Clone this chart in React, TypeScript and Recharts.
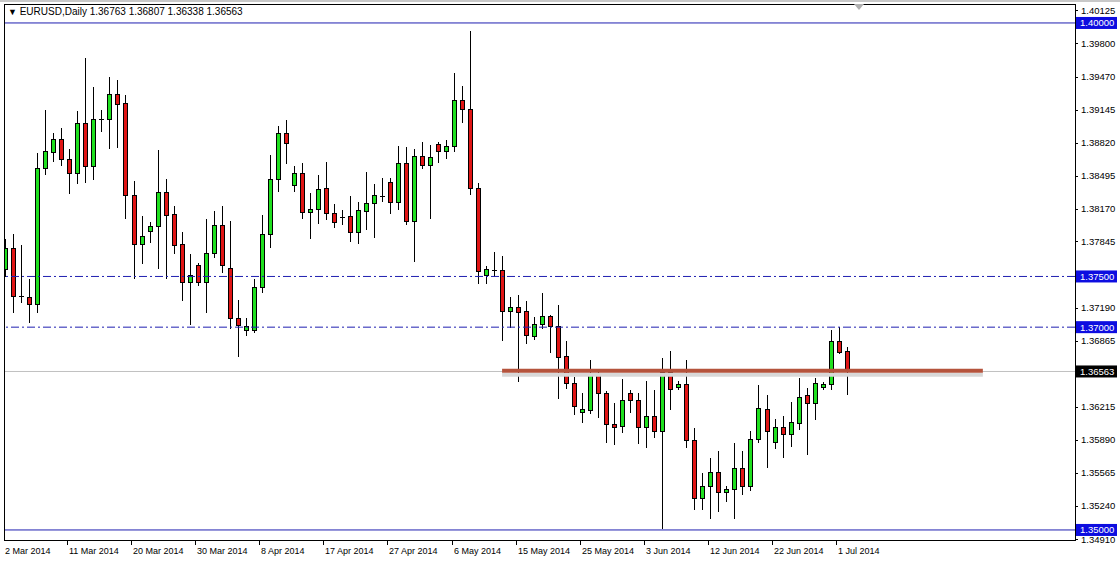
import { Bar, ComposedChart, ReferenceLine, XAxis, YAxis } from 'recharts';

const DATES = [
  '2 Mar 2014', '3 Mar 2014', '4 Mar 2014', '5 Mar 2014', '6 Mar 2014', '7 Mar 2014',
  '9 Mar 2014', '10 Mar 2014', '11 Mar 2014', '12 Mar 2014', '13 Mar 2014', '14 Mar 2014',
  '16 Mar 2014', '17 Mar 2014', '18 Mar 2014', '19 Mar 2014', '20 Mar 2014', '21 Mar 2014',
  '23 Mar 2014', '24 Mar 2014', '25 Mar 2014', '26 Mar 2014', '27 Mar 2014', '28 Mar 2014',
  '30 Mar 2014', '31 Mar 2014', '1 Apr 2014', '2 Apr 2014', '3 Apr 2014', '4 Apr 2014',
  '6 Apr 2014', '7 Apr 2014', '8 Apr 2014', '9 Apr 2014', '10 Apr 2014', '11 Apr 2014',
  '13 Apr 2014', '14 Apr 2014', '15 Apr 2014', '16 Apr 2014', '17 Apr 2014', '18 Apr 2014',
  '20 Apr 2014', '21 Apr 2014', '22 Apr 2014', '23 Apr 2014', '24 Apr 2014', '25 Apr 2014',
  '27 Apr 2014', '28 Apr 2014', '29 Apr 2014', '30 Apr 2014', '1 May 2014', '2 May 2014',
  '4 May 2014', '5 May 2014', '6 May 2014', '7 May 2014', '8 May 2014', '9 May 2014',
  '11 May 2014', '12 May 2014', '13 May 2014', '14 May 2014', '15 May 2014', '16 May 2014',
  '18 May 2014', '19 May 2014', '20 May 2014', '21 May 2014', '22 May 2014', '23 May 2014',
  '25 May 2014', '26 May 2014', '27 May 2014', '28 May 2014', '29 May 2014', '30 May 2014',
  '1 Jun 2014', '2 Jun 2014', '3 Jun 2014', '4 Jun 2014', '5 Jun 2014', '6 Jun 2014',
  '8 Jun 2014', '9 Jun 2014', '10 Jun 2014', '11 Jun 2014', '12 Jun 2014', '13 Jun 2014',
  '15 Jun 2014', '16 Jun 2014', '17 Jun 2014', '18 Jun 2014', '19 Jun 2014', '20 Jun 2014',
  '22 Jun 2014', '23 Jun 2014', '24 Jun 2014', '25 Jun 2014', '26 Jun 2014', '27 Jun 2014',
  '29 Jun 2014', '30 Jun 2014', '1 Jul 2014', '2 Jul 2014',
];

const OPEN = [
  1.37574, 1.37781, 1.37308, 1.37298, 1.37229, 1.3857, 1.38728, 1.38856, 1.38659, 1.38521,
  1.39014, 1.3859, 1.39053, 1.39053, 1.393, 1.39211, 1.38304, 1.37821, 1.37949, 1.37998,
  1.38334, 1.38117, 1.37821, 1.37446, 1.37614, 1.37446, 1.37732, 1.38008, 1.37584, 1.37091,
  1.36973, 1.36973, 1.37397, 1.37919, 1.38462, 1.38915, 1.38403, 1.38521, 1.38136, 1.38166,
  1.38373, 1.38127, 1.38087, 1.38097, 1.37939, 1.38146, 1.38225, 1.38294, 1.38432, 1.38235,
  1.3862, 1.38047, 1.38688, 1.386, 1.38807, 1.38738, 1.38787, 1.39241, 1.39152, 1.38373,
  1.37515, 1.37564, 1.37564, 1.3716, 1.37199, 1.3716, 1.36913, 1.37032, 1.37111, 1.37012,
  1.36716, 1.3645, 1.36164, 1.36184, 1.36548, 1.36351, 1.36046, 1.36026, 1.36351, 1.36282,
  1.36016, 1.36125, 1.35977, 1.36558, 1.3641, 1.3644, 1.35888, 1.35316, 1.35434, 1.35572,
  1.35375, 1.35404, 1.35612, 1.35434, 1.35898, 1.36193, 1.35868, 1.36016, 1.35947, 1.36055,
  1.36331, 1.36253, 1.3641, 1.3644, 1.36864, 1.36763,
];

const HIGH = [
  1.3787, 1.37919, 1.37811, 1.37475, 1.38718, 1.39142, 1.38915, 1.38965, 1.38758, 1.39132,
  1.39655, 1.39369, 1.39142, 1.39468, 1.39438, 1.3929, 1.38442, 1.38097, 1.38038, 1.38748,
  1.38462, 1.38195, 1.37939, 1.37722, 1.37633, 1.38067, 1.38146, 1.38195, 1.38047, 1.37268,
  1.37091, 1.37475, 1.38107, 1.38698, 1.38984, 1.39044, 1.3859, 1.3862, 1.38324, 1.38501,
  1.38629, 1.38215, 1.38156, 1.38294, 1.38235, 1.38531, 1.38412, 1.38472, 1.38472, 1.38787,
  1.38777, 1.38758, 1.38827, 1.38797, 1.38827, 1.38846, 1.39507, 1.39379, 1.39921, 1.38422,
  1.37604, 1.37742, 1.37702, 1.37298, 1.37318, 1.37259, 1.37101, 1.37337, 1.3712, 1.37219,
  1.36864, 1.36509, 1.36351, 1.36677, 1.36578, 1.36371, 1.36253, 1.36489, 1.36381, 1.36351,
  1.3647, 1.36381, 1.36696, 1.36765, 1.3647, 1.36677, 1.36006, 1.35562, 1.3571, 1.35779,
  1.35434, 1.35858, 1.35779, 1.35977, 1.3643, 1.36331, 1.36095, 1.36125, 1.36263, 1.36499,
  1.364, 1.36499, 1.3646, 1.36973, 1.37002, 1.36807,
];

const LOW = [
  1.37505, 1.3715, 1.37249, 1.37051, 1.3715, 1.38511, 1.38639, 1.386, 1.38324, 1.38422,
  1.38432, 1.38462, 1.38935, 1.38767, 1.38777, 1.38077, 1.37485, 1.37633, 1.3784, 1.37584,
  1.37485, 1.37732, 1.37268, 1.37032, 1.37416, 1.3715, 1.37692, 1.37544, 1.36992, 1.36716,
  1.36923, 1.36953, 1.37347, 1.37791, 1.38343, 1.3862, 1.38343, 1.38077, 1.3788, 1.38028,
  1.38067, 1.37988, 1.38018, 1.3785, 1.3783, 1.37969, 1.3789, 1.38245, 1.38127, 1.38166,
  1.38018, 1.37653, 1.3857, 1.38077, 1.38629, 1.38669, 1.38738, 1.39024, 1.38314, 1.37436,
  1.37436, 1.37505, 1.36874, 1.37002, 1.3647, 1.36844, 1.36884, 1.36992, 1.36756, 1.36302,
  1.364, 1.36144, 1.36065, 1.36154, 1.36115, 1.35868, 1.35848, 1.35967, 1.36164, 1.35858,
  1.35819, 1.35917, 1.3502, 1.36193, 1.36391, 1.35819, 1.35207, 1.35207, 1.35118, 1.35187,
  1.35286, 1.35118, 1.35355, 1.35395, 1.35868, 1.35621, 1.35809, 1.3572, 1.35828, 1.35996,
  1.3575, 1.36095, 1.36391, 1.36391, 1.36746, 1.36338,
];

const CLOSE = [
  1.37781, 1.37308, 1.37308, 1.37229, 1.3857, 1.38738, 1.38856, 1.38659, 1.38521, 1.39014,
  1.3859, 1.39053, 1.39053, 1.393, 1.39201, 1.38304, 1.37821, 1.379, 1.37998, 1.38334,
  1.38107, 1.37811, 1.37446, 1.37515, 1.37446, 1.37732, 1.38008, 1.37614, 1.37091, 1.37022,
  1.37012, 1.37397, 1.37919, 1.38462, 1.38915, 1.38817, 1.38521, 1.38136, 1.38166, 1.38363,
  1.38127, 1.38038, 1.38087, 1.37939, 1.38156, 1.38225, 1.38304, 1.38294, 1.38235, 1.3862,
  1.38047, 1.38688, 1.386, 1.38679, 1.38738, 1.38787, 1.39241, 1.39152, 1.38373, 1.37554,
  1.37574, 1.37564, 1.3716, 1.37199, 1.3715, 1.36923, 1.37032, 1.37111, 1.37012, 1.36706,
  1.3645, 1.36223, 1.36193, 1.36548, 1.36351, 1.36046, 1.36016, 1.36282, 1.36282, 1.36016,
  1.36125, 1.35977, 1.36558, 1.36391, 1.3644, 1.35888, 1.35316, 1.35434, 1.35572, 1.35375,
  1.35404, 1.35612, 1.35434, 1.35898, 1.36203, 1.35977, 1.36016, 1.35947, 1.36065, 1.36312,
  1.36253, 1.3645, 1.3644, 1.36864, 1.36756, 1.36563,
];

const X_TICKS = [
  '2 Mar 2014', '11 Mar 2014', '20 Mar 2014', '30 Mar 2014', '8 Apr 2014', '17 Apr 2014',
  '27 Apr 2014', '6 May 2014', '15 May 2014', '25 May 2014', '3 Jun 2014', '12 Jun 2014',
  '22 Jun 2014', '1 Jul 2014',
];

const PRICE_TICKS = [
  1.40125, 1.398, 1.3947, 1.39145, 1.3882, 1.38495, 1.3817, 1.37845, 1.3719, 1.36865,
  1.36215, 1.3589, 1.35565, 1.3524, 1.3491,
];
const LEVEL_LINES = [1.4, 1.375, 1.37, 1.35];
const BID = 1.36563;
const SUPPORT = 1.3657;
const EMPTY_SLOTS = 28;

const BLUE = '#1f1fb0';
const LABEL_BLUE = '#0d0de0';
const FONT = '"Liberation Sans", Arial, sans-serif';

const data: any[] = DATES.map((date, i) => ({
  date,
  open: OPEN[i],
  high: HIGH[i],
  low: LOW[i],
  close: CLOSE[i],
}));
for (let i = 0; i < EMPTY_SLOTS; i++) {
  data.push({ date: `_${i}`, open: null, high: null, low: null, close: null });
}

function Candle(props: any) {
  const { x, y, width, height, payload } = props;
  if (!payload || payload.open == null || !isFinite(y)) return <g />;
  const { open, high, low, close } = payload;
  const top = Math.min(y, y + height);
  const h = Math.abs(height);
  const toY = (p: number) => top + ((high - p) / (high - low || 1)) * h;
  const cx = Math.floor(x + width / 2) + 0.5;
  const yo = toY(open);
  const yc = toY(close);
  const bTop = Math.round(Math.min(yo, yc)) + 0.5;
  const bBot = Math.round(Math.max(yo, yc)) + 0.5;
  const bull = close > open;
  return (
    <g>
      <line x1={cx} x2={cx} y1={Math.round(top)} y2={Math.round(top + h) + 1} stroke="#000" strokeWidth={1} />
      {bBot - bTop < 1 ? (
        <line x1={cx - 2.5} x2={cx + 2.5} y1={bTop} y2={bTop} stroke="#000" strokeWidth={1} />
      ) : (
        <rect
          x={cx - 2}
          y={bTop}
          width={4}
          height={bBot - bTop}
          fill={bull ? '#1fe01f' : '#e01515'}
          stroke="#000"
          strokeWidth={1}
        />
      )}
    </g>
  );
}

function PriceTick(props: any) {
  const { y, payload } = props;
  const v = payload.value as number;
  const text = v.toFixed(5);
  const isLevel = LEVEL_LINES.includes(v);
  const isBid = v === BID;
  if (isLevel || isBid) {
    return (
      <g>
        <rect x={1076} y={y - 6} width={41} height={12} fill={isBid ? '#000' : LABEL_BLUE} />
        <text x={1080} y={y + 3.5} fontSize={9.5} fontFamily={FONT} fill="#fff">
          {text}
        </text>
      </g>
    );
  }
  return (
    <g>
      <line x1={1075} x2={1078} y1={Math.round(y) + 0.5} y2={Math.round(y) + 0.5} stroke="#000" />
      <text x={1081} y={y + 3.5} fontSize={9.5} fontFamily={FONT} fill="#000">
        {text}
      </text>
    </g>
  );
}

function DateTick(props: any) {
  const { x, payload } = props;
  const tx = Math.floor(x) + 0.5;
  return (
    <g>
      <line x1={tx - 2} x2={tx - 2} y1={540} y2={545} stroke="#000" />
      <text x={tx - 0.5} y={554} fontSize={9} fontFamily={FONT} fill="#000">
        {payload.value}
      </text>
    </g>
  );
}

export default function App() {
  return (
    <div
      style={{
        position: 'absolute',
        left: 0,
        top: 0,
        width: 1120,
        height: 562,
        background: '#fff',
        overflow: 'hidden',
      }}
    >
      <ComposedChart
        width={1120}
        height={562}
        data={data}
        margin={{ top: 4, right: 0, bottom: 0, left: 1.3 }}
        barCategoryGap={0}
      >
        <XAxis
          dataKey="date"
          type="category"
          height={22}
          ticks={X_TICKS}
          interval={0}
          tick={<DateTick />}
          axisLine={false}
          tickLine={false}
        />
        <YAxis
          orientation="right"
          type="number"
          width={45}
          domain={[1.34901, 1.40187]}
          allowDataOverflow
          ticks={[...PRICE_TICKS, ...LEVEL_LINES, BID]}
          interval={0}
          tick={<PriceTick />}
          axisLine={false}
          tickLine={false}
        />
        <ReferenceLine y={BID} stroke="#c0c0c0" strokeWidth={1} />
        <ReferenceLine y={1.4} stroke={BLUE} strokeWidth={1} />
        <ReferenceLine y={1.35} stroke={BLUE} strokeWidth={1} />
        <ReferenceLine y={1.375} stroke={BLUE} strokeWidth={1} strokeDasharray="8 3 2 3" />
        <ReferenceLine y={1.37} stroke={BLUE} strokeWidth={1} strokeDasharray="8 3 2 3" />
        <Bar
          dataKey={(d: any) => (d.open == null ? null : [d.low, d.high])}
          barSize={5}
          shape={(p: any) => <Candle {...p} />}
          isAnimationActive={false}
        />
        <ReferenceLine
          segment={[
            { x: DATES[62], y: SUPPORT - 0.0004 },
            { x: '_16', y: SUPPORT - 0.0004 },
          ]}
          stroke="#d8d8d8"
          strokeWidth={4}
        />
        <ReferenceLine
          segment={[
            { x: DATES[62], y: SUPPORT },
            { x: '_16', y: SUPPORT },
          ]}
          stroke="#b5533c"
          strokeWidth={4}
        />
      </ComposedChart>
      <div style={{ position: 'absolute', left: 0, top: 0, width: 4, height: 562, background: '#fff' }} />
      <div style={{ position: 'absolute', left: 0, top: 0, width: 1120, height: 2, background: '#c8c8c8' }} />
      <div
        style={{
          position: 'absolute',
          left: 4,
          top: 4,
          width: 1072,
          height: 537,
          border: '1px solid #000',
          boxSizing: 'border-box',
          pointerEvents: 'none',
        }}
      />
      <svg style={{ position: 'absolute', left: 854, top: 4 }} width={12} height={8}>
        <polygon points="0,0 10,0 5,6" fill="#b0b0b0" />
      </svg>
      <div
        style={{
          position: 'absolute',
          left: 8,
          top: 6,
          fontFamily: FONT,
          fontSize: 10,
          lineHeight: '12px',
          color: '#000',
          whiteSpace: 'pre',
        }}
      >
        <span style={{ fontSize: 9 }}>▼</span> EURUSD,Daily 1.36763 1.36807 1.36338 1.36563
      </div>
    </div>
  );
}
